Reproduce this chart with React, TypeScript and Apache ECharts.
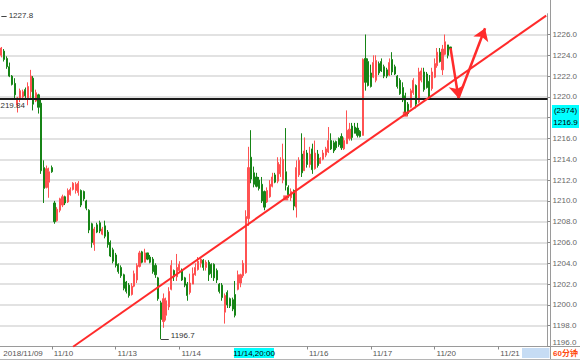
import React, { useEffect, useRef } from 'react';
import * as echarts from 'echarts';

// ---------- data ----------
const SLOT_COUNT = 206; // hourly slots on the time axis (incl. empty future slots)
const tickIndex = [0, 19, 43, 67, 115, 139, 163, 187];
const tickLabels = ['2018/11/09', '11/10', '11/13', '11/14', '11/16', '11/17', '11/20', '11/21'];

// 60-minute candles: [open, close, low, high]
const ohlc: number[][] = [
  [1224.0, 1224.7, 1223.8, 1224.8], [1224.4, 1223.6, 1223.4, 1224.6], [1223.7, 1222.9, 1222.7, 1223.9],
  [1222.9, 1222.0, 1221.9, 1223.3], [1222.0, 1221.2, 1221.1, 1222.1], [1221.3, 1220.2, 1219.7, 1221.8],
  [1219.2, 1219.9, 1218.5, 1220.0], [1219.8, 1220.6, 1219.5, 1220.8], [1220.0, 1220.5, 1219.7, 1220.7],
  [1220.7, 1220.1, 1219.9, 1220.9], [1219.9, 1221.0, 1219.2, 1221.4], [1220.5, 1222.0, 1219.9, 1222.6],
  [1221.8, 1219.3, 1218.7, 1222.0], [1219.6, 1220.4, 1219.5, 1220.7], [1220.2, 1219.0, 1218.4, 1220.3],
  [1219.4, 1212.9, 1212.6, 1219.7], [1213.2, 1211.2, 1209.8, 1213.9], [1211.3, 1213.1, 1211.2, 1213.4],
  [1211.8, 1212.8, 1210.3, 1213.2], [1213.2, 1212.8, 1212.7, 1213.4], [1209.8, 1208.0, 1207.8, 1210.0],
  [1208.1, 1209.2, 1208.0, 1209.4], [1209.1, 1210.2, 1208.9, 1210.3], [1209.6, 1210.4, 1209.4, 1210.6],
  [1210.4, 1209.8, 1209.6, 1210.5], [1209.9, 1211.0, 1209.8, 1211.2], [1210.6, 1211.1, 1210.5, 1211.3],
  [1211.1, 1211.7, 1211.0, 1211.8], [1211.0, 1211.6, 1210.7, 1211.8], [1210.8, 1211.7, 1210.5, 1211.9],
  [1211.0, 1209.6, 1209.4, 1211.1], [1210.9, 1210.2, 1210.0, 1211.0], [1210.0, 1209.3, 1209.1, 1210.1],
  [1209.1, 1207.2, 1206.9, 1209.2], [1207.8, 1206.0, 1205.5, 1207.9], [1205.8, 1207.3, 1205.2, 1207.5],
  [1207.7, 1207.0, 1206.9, 1207.9], [1207.9, 1207.1, 1206.9, 1208.1], [1206.8, 1207.3, 1206.7, 1207.5],
  [1207.6, 1206.6, 1206.4, 1208.1], [1207.0, 1205.8, 1205.5, 1207.2], [1206.0, 1204.7, 1204.6, 1206.2],
  [1205.3, 1204.2, 1204.0, 1205.5], [1204.8, 1203.8, 1203.6, 1205.0], [1203.9, 1203.2, 1203.0, 1204.0],
  [1203.6, 1202.8, 1202.6, 1203.8], [1202.9, 1201.6, 1201.4, 1203.0], [1202.2, 1201.3, 1201.1, 1202.3],
  [1201.9, 1200.9, 1200.7, 1202.1], [1201.0, 1201.8, 1200.9, 1202.1], [1201.8, 1203.0, 1201.7, 1203.3],
  [1202.4, 1203.8, 1202.1, 1204.0], [1203.7, 1205.0, 1203.6, 1205.2], [1205.1, 1204.1, 1204.0, 1205.2],
  [1204.1, 1205.0, 1204.1, 1205.4], [1205.0, 1204.4, 1204.3, 1205.0], [1204.6, 1204.1, 1204.0, 1204.8],
  [1204.4, 1203.2, 1203.0, 1204.6], [1203.8, 1202.9, 1202.6, 1204.0], [1202.6, 1200.6, 1200.4, 1202.7],
  [1200.2, 1198.6, 1196.7, 1200.4], [1198.4, 1200.6, 1197.8, 1201.1], [1199.0, 1200.4, 1198.5, 1200.7],
  [1199.8, 1201.3, 1199.5, 1201.7], [1201.5, 1203.8, 1201.4, 1204.3], [1203.3, 1202.7, 1202.3, 1203.4],
  [1202.7, 1203.6, 1202.3, 1204.9], [1203.3, 1203.9, 1203.1, 1204.2], [1203.3, 1202.4, 1202.3, 1203.5],
  [1202.6, 1201.9, 1201.7, 1202.7], [1202.0, 1200.9, 1200.4, 1202.2], [1201.2, 1202.1, 1201.0, 1203.0],
  [1202.0, 1203.0, 1202.0, 1203.6], [1202.9, 1203.6, 1202.8, 1204.0], [1203.4, 1204.2, 1203.3, 1204.6],
  [1204.0, 1204.4, 1203.6, 1204.6], [1204.3, 1203.6, 1203.3, 1204.4], [1203.6, 1204.1, 1203.3, 1204.3],
  [1204.1, 1202.9, 1202.3, 1204.3], [1203.9, 1203.0, 1202.6, 1204.0], [1203.9, 1202.6, 1202.3, 1204.0],
  [1203.3, 1202.4, 1202.1, 1203.5], [1202.0, 1201.3, 1201.1, 1202.1], [1201.9, 1200.7, 1200.4, 1202.1],
  [1199.3, 1200.9, 1198.2, 1201.1], [1201.2, 1200.0, 1199.7, 1201.4], [1200.6, 1199.9, 1199.7, 1200.7],
  [1200.5, 1199.6, 1199.4, 1200.7], [1201.0, 1199.0, 1198.8, 1202.3], [1201.5, 1202.9, 1201.4, 1203.3],
  [1202.1, 1202.9, 1201.7, 1203.0], [1202.8, 1204.0, 1202.6, 1204.3], [1203.1, 1208.5, 1203.0, 1209.1],
  [1208.3, 1213.2, 1207.6, 1215.2], [1214.2, 1212.1, 1211.7, 1216.8], [1212.7, 1211.6, 1211.3, 1213.3],
  [1212.3, 1211.4, 1211.3, 1212.7], [1212.0, 1211.2, 1211.0, 1212.3], [1211.6, 1210.0, 1209.8, 1212.3],
  [1210.9, 1209.4, 1209.1, 1211.0], [1209.9, 1211.0, 1209.8, 1211.3], [1210.4, 1211.6, 1210.3, 1212.0],
  [1211.4, 1212.3, 1211.3, 1212.7], [1212.5, 1211.8, 1211.7, 1212.7], [1211.9, 1213.7, 1211.7, 1214.2],
  [1212.6, 1213.5, 1212.3, 1214.2], [1212.0, 1214.0, 1211.7, 1215.5], [1212.8, 1211.5, 1211.0, 1217.0],
  [1211.3, 1210.6, 1210.3, 1211.5], [1210.3, 1210.9, 1210.0, 1211.2], [1211.0, 1209.5, 1209.1, 1211.1],
  [1209.4, 1213.2, 1208.4, 1213.9], [1212.5, 1213.9, 1212.3, 1214.2], [1214.5, 1212.7, 1212.3, 1216.5],
  [1212.9, 1214.8, 1212.9, 1216.1], [1214.6, 1213.5, 1213.2, 1214.9], [1213.5, 1214.5, 1213.2, 1215.2],
  [1215.0, 1213.0, 1212.6, 1215.5], [1213.1, 1214.6, 1213.0, 1215.8], [1214.5, 1213.4, 1213.2, 1214.9],
  [1213.6, 1214.1, 1213.6, 1214.2], [1214.0, 1214.6, 1213.9, 1214.9], [1214.4, 1215.0, 1214.2, 1215.2],
  [1214.7, 1215.8, 1214.6, 1217.1], [1215.8, 1215.0, 1214.9, 1216.5], [1215.6, 1214.8, 1214.6, 1215.8],
  [1215.7, 1215.1, 1214.9, 1215.8], [1216.0, 1215.4, 1215.2, 1216.1], [1216.2, 1215.1, 1214.9, 1216.5],
  [1215.0, 1215.8, 1214.9, 1216.1], [1215.5, 1216.8, 1215.5, 1218.7], [1216.0, 1216.9, 1215.8, 1217.5],
  [1217.2, 1216.1, 1215.8, 1217.5], [1217.1, 1216.5, 1216.5, 1217.5], [1217.0, 1216.3, 1216.1, 1217.5],
  [1216.7, 1216.2, 1216.1, 1216.8], [1216.3, 1223.6, 1216.3, 1223.7], [1223.7, 1221.4, 1220.6, 1226.0],
  [1223.4, 1221.1, 1221.0, 1223.7], [1222.3, 1221.0, 1220.9, 1223.1], [1221.9, 1223.3, 1221.8, 1224.0],
  [1221.6, 1223.5, 1221.4, 1224.0], [1223.2, 1222.3, 1222.1, 1223.4], [1223.4, 1222.5, 1222.4, 1223.7],
  [1222.9, 1222.0, 1221.8, 1223.1], [1222.6, 1222.0, 1221.8, 1222.8], [1222.1, 1223.3, 1222.0, 1223.7],
  [1223.6, 1222.4, 1222.1, 1224.3], [1222.9, 1222.2, 1222.1, 1223.1], [1222.0, 1221.0, 1220.8, 1222.1],
  [1221.6, 1220.3, 1220.2, 1221.8], [1220.9, 1219.7, 1219.5, 1221.4], [1220.1, 1218.5, 1218.2, 1220.4],
  [1219.3, 1218.4, 1218.2, 1219.5], [1219.0, 1220.6, 1218.9, 1220.8], [1220.4, 1221.6, 1220.2, 1221.8],
  [1221.1, 1219.3, 1218.9, 1221.2], [1219.5, 1222.4, 1219.4, 1222.8], [1221.6, 1222.5, 1221.4, 1222.8],
  [1222.4, 1220.7, 1220.5, 1222.8], [1222.2, 1220.9, 1220.8, 1222.4], [1221.5, 1220.0, 1219.9, 1222.1],
  [1220.8, 1222.4, 1220.6, 1222.8], [1221.9, 1223.2, 1221.8, 1223.7], [1223.0, 1224.3, 1222.8, 1224.7],
  [1224.3, 1223.4, 1223.3, 1224.7], [1222.6, 1224.6, 1222.1, 1225.0], [1224.1, 1225.3, 1224.0, 1226.0],
  [1225.0, 1224.0, 1223.7, 1225.0], [1224.8, 1224.6, 1224.3, 1224.8],
];

const trendLine = [[27, 1195.98], [205, 1227.82]];
const touchPoints = [[107, 1210.29], [152, 1218.34]];
const arrowDown = [[169, 1224.7], [172, 1219.9]];
const arrowUp = [[172, 1219.9], [182, 1226.6]];
const supportLevel = 1219.84;
const lastPrice = 1224.6;
const prevHigh = { index: 0, value: 1227.8 };
const lowPoint = { index: 60, value: 1196.7 };
const cursorTime = '11/14,20:00';
const cursorPrice = ['(2974)', '1216.9'];
const cursorCoveredTick = 1218; // axis label hidden under the cursor price box
const periodLabel = '60分钟';

const Y_MIN = 1196;
const Y_MAX = 1228;
const FONT = '"Liberation Sans", Arial, sans-serif';
const RED = '#ff2b2b';

export default function App() {
  const ref = useRef<HTMLDivElement>(null);

  useEffect(() => {
    if (!ref.current) return;
    const chart = echarts.init(ref.current, null, { renderer: 'svg' });

    const labelAt: Record<number, string> = {};
    tickIndex.forEach((idx, k) => (labelAt[idx] = tickLabels[k]));
    const categories = Array.from({ length: SLOT_COUNT }, (_, i) => labelAt[i] ?? '');
    const showLabel = (i: number) => labelAt[i] !== undefined;
    const showTick = (i: number) => labelAt[i] !== undefined && i !== 0;

    const option: any = {
      animation: false,
      textStyle: { fontFamily: FONT },
      grid: { left: 0, right: 29.5, top: 13.7, bottom: 13.5 },
      xAxis: {
        type: 'category',
        data: categories,
        boundaryGap: true,
        axisLine: { lineStyle: { color: '#9a9a9a', width: 1 } },
        axisTick: { show: true, interval: showTick, alignWithLabel: true, length: 3, lineStyle: { color: '#8a8a8a' } },
        axisLabel: {
          interval: showLabel,
          align: 'left',
          fontSize: 8,
          color: '#555',
          margin: 3,
          padding: [0, 0, 0, 2],
        },
        splitLine: { show: false },
      },
      yAxis: {
        type: 'value',
        position: 'right',
        min: Y_MIN,
        max: Y_MAX,
        interval: 2,
        axisLine: { show: true, lineStyle: { color: '#9a9a9a' } },
        axisTick: { show: true, length: 3, lineStyle: { color: '#8a8a8a' } },
        axisLabel: {
          fontSize: 8,
          color: '#666',
          margin: 5,
          showMaxLabel: false,
          formatter: (v: number) => {
            if (v === cursorCoveredTick) return '';
            return v === Y_MIN ? `{lift|${v.toFixed(1)}}` : v.toFixed(1);
          },
          rich: {
            lift: { fontSize: 8, color: '#666', padding: [0, 0, 9, 0] },
          },
        },
        splitLine: {
          show: true,
          showMaxLine: false,
          showMinLine: false,
          lineStyle: { color: '#d9d9d9', width: 1.5 },
        },
      },
      series: [
        {
          type: 'candlestick',
          data: ohlc,
          barWidth: 1.6,
          clip: false,
          itemStyle: {
            color: '#ff5252',
            color0: '#168416',
            borderColor: '#ff5252',
            borderColor0: '#168416',
            borderWidth: 1,
          },
          markLine: {
            silent: true,
            symbol: 'none',
            animation: false,
            data: [
              {
                yAxis: supportLevel,
                lineStyle: { color: '#1a1a1a', width: 2, type: 'solid' },
                label: {
                  show: true,
                  position: 'insideStartBottom',
                  formatter: supportLevel.toFixed(2),
                  color: '#333',
                  fontSize: 8,
                  distance: [-4, 3],
                },
              },
              {
                yAxis: lastPrice,
                lineStyle: { opacity: 0 },
                label: {
                  show: true,
                  position: 'end',
                  formatter: lastPrice.toFixed(1),
                  color: '#ff2020',
                  fontSize: 8,
                  backgroundColor: '#e8f4e8',
                  padding: [1, 1],
                  distance: 3,
                },
              },
              [
                { coord: [prevHigh.index, prevHigh.value] },
                {
                  coord: [prevHigh.index + 2, prevHigh.value],
                  lineStyle: { color: '#444', width: 1, type: 'solid' },
                  label: { show: true, position: 'end', formatter: prevHigh.value.toFixed(1), color: '#333', fontSize: 8, distance: 2 },
                },
              ],
              [
                { coord: [lowPoint.index, lowPoint.value] },
                {
                  coord: [lowPoint.index + 3, lowPoint.value],
                  lineStyle: { color: '#444', width: 1, type: 'solid' },
                  label: {
                    show: true,
                    position: 'end',
                    formatter: lowPoint.value.toFixed(1),
                    color: '#333',
                    fontSize: 8,
                    distance: 2,
                    verticalAlign: 'bottom',
                  },
                },
              ],
            ],
          },
        },
        {
          type: 'line',
          data: trendLine,
          showSymbol: false,
          symbol: 'none',
          z: 5,
          lineStyle: { color: RED, width: 2 },
        },
        {
          type: 'scatter',
          data: touchPoints,
          symbol: 'rect',
          symbolSize: 5,
          z: 6,
          itemStyle: { color: RED },
        },
        {
          type: 'line',
          data: [],
          z: 7,
          markLine: {
            silent: true,
            animation: false,
            symbol: ['none', 'arrow'],
            symbolSize: 12,
            lineStyle: { color: RED, width: 2.5, type: 'solid' },
            label: { show: false },
            data: [
              [{ coord: arrowDown[0] }, { coord: arrowDown[1] }],
              [{ coord: arrowUp[0] }, { coord: arrowUp[1] }],
            ],
          },
        },
      ],
      graphic: [
        { type: 'line', z: 50, shape: { x1: 550.5, y1: 0, x2: 550.5, y2: 360 }, style: { stroke: '#9a9a9a', lineWidth: 1 }, silent: true },
        { type: 'line', z: 50, shape: { x1: 550, y1: 346.5, x2: 580, y2: 346.5 }, style: { stroke: '#9a9a9a', lineWidth: 1 }, silent: true },
        { type: 'line', z: 50, shape: { x1: 0, y1: 359.5, x2: 580, y2: 359.5 }, style: { stroke: '#b5b5b5', lineWidth: 1 }, silent: true },
        { type: 'rect', z: 100, shape: { x: 234, y: 348, width: 40, height: 10 }, style: { fill: '#00ffff' }, silent: true },
        {
          type: 'text', z: 101, x: 254, y: 353.3,
          style: { text: cursorTime, fill: '#000', font: `8px ${FONT}`, align: 'center', verticalAlign: 'middle' },
          silent: true,
        },
        { type: 'rect', z: 100, shape: { x: 522, y: 348, width: 27.5, height: 10 }, style: { fill: '#c6dcf4' }, silent: true },
        {
          type: 'text', z: 101, x: 553, y: 353.3,
          style: { text: periodLabel, fill: '#ff4a10', font: `bold 8px ${FONT}, "Noto Sans CJK SC"`, align: 'left', verticalAlign: 'middle' },
          silent: true,
        },
        { type: 'rect', z: 100, shape: { x: 552, y: 105, width: 27, height: 23 }, style: { fill: '#00ffff' }, silent: true },
        {
          type: 'text', z: 101, x: 565.5, y: 110.8,
          style: { text: cursorPrice[0], fill: '#000', font: `8px ${FONT}`, align: 'center', verticalAlign: 'middle' },
          silent: true,
        },
        {
          type: 'text', z: 101, x: 565.5, y: 122.3,
          style: { text: cursorPrice[1], fill: '#000', font: `8px ${FONT}`, align: 'center', verticalAlign: 'middle' },
          silent: true,
        },
      ],
    };

    chart.setOption(option);
    return () => chart.dispose();
  }, []);

  return (
    <div
      ref={ref}
      style={{ position: 'fixed', left: 0, top: 0, width: 580, height: 360, background: '#fff' }}
    />
  );
}
